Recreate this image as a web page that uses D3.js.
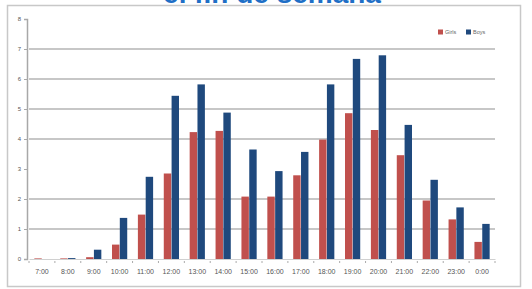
<!DOCTYPE html>
<html>
<head>
<meta charset="utf-8">
<script src="https://cdn.jsdelivr.net/npm/d3@7"></script>
<style>
  body { margin: 0; background: #fff; }
  svg { display: block; font-family: "Liberation Sans", Arial, sans-serif; }
</style>
</head>
<body>
<svg width="532" height="289"></svg>
<script>
// hours of the day
var hours = ["7:00","8:00","9:00","10:00","11:00","12:00","13:00","14:00","15:00",
             "16:00","17:00","18:00","19:00","20:00","21:00","22:00","23:00","0:00"];
var girls = [0.02,0.02,0.06,0.48,1.48,2.85,4.23,4.27,2.08,2.08,2.79,3.98,4.86,4.3,3.46,1.95,1.32,0.57];
var boys  = [0,0.03,0.31,1.37,2.74,5.44,5.82,4.88,3.65,2.93,3.57,5.82,6.67,6.79,4.47,2.64,1.72,1.17];
var yTicks = [0,1,2,3,4,5,6,7,8];
var gridVals = [1,2,4,5,6,7];
var seriesNames = ["Girls","Boys"];
var colors = ["#c0504d","#1f497d"];

var svg = d3.select("svg");

// outer frame
svg.append("rect")
    .attr("x", 7.5).attr("y", 5.5)
    .attr("width", 513).attr("height", 281)
    .attr("fill", "none")
    .attr("stroke", "#c8c8c8")
    .attr("stroke-width", 1.5);

// title, mostly cut off at the top
svg.append("text")
    .attr("x", 272).attr("y", 3)
    .attr("text-anchor", "middle")
    .attr("fill", "#1f6fc6")
    .style("font-size", "28px")
    .style("font-weight", "bold")
    .text("el fin de semana");

var x = d3.scaleBand().domain(hours).range([29, 495]);
var x1 = d3.scaleBand().domain(seriesNames).range([x.bandwidth()/2 - 8, x.bandwidth()/2 + 8]).padding(0.05);
var y = d3.scaleLinear().domain([0, 8]).range([259, 19]);

// gridlines
svg.append("g").selectAll("line")
    .data(gridVals)
    .enter().append("line")
    .attr("x1", 29).attr("x2", 495)
    .attr("y1", function(d) { return y(d); })
    .attr("y2", function(d) { return y(d); })
    .attr("stroke", "#b4b4b4")
    .attr("stroke-width", 1.3);

// y axis
var yAxis = svg.append("g")
    .attr("transform", "translate(27,0)")
    .call(d3.axisLeft(y).tickValues(yTicks).tickSize(3).tickFormat(d3.format("d")));
yAxis.select(".domain").attr("stroke", "#a8a8a8").attr("stroke-width", 1.5);
yAxis.selectAll(".tick line").attr("stroke", "#a8a8a8");
yAxis.selectAll("text").attr("fill", "#555").style("font-size", "6px").attr("x", -6);

// bars
var groups = svg.append("g").selectAll("g")
    .data(hours)
    .enter().append("g")
    .attr("transform", function(d) { return "translate(" + x(d) + ",0)"; });

groups.selectAll("rect")
    .data(function(d, i) { return [girls[i], boys[i]]; })
    .enter().append("rect")
    .attr("x", function(d, j) { return x1(seriesNames[j]); })
    .attr("width", x1.bandwidth())
    .attr("y", function(d) { return y(d); })
    .attr("height", function(d) { return y(0) - y(d); })
    .attr("fill", function(d, j) { return colors[j]; });

// x axis
var xAxis = svg.append("g")
    .attr("transform", "translate(0," + y(0) + ")")
    .call(d3.axisBottom(x).tickSize(0).tickPadding(10));
xAxis.select(".domain").attr("stroke", "#d0d0d0");
xAxis.selectAll("text").attr("fill", "#555").style("font-size", "7px");

// little ticks between categories
svg.append("g").selectAll("line")
    .data(hours.concat(["end"]))
    .enter().append("line")
    .attr("x1", function(d, i) { return 29 + i * x.step(); })
    .attr("x2", function(d, i) { return 29 + i * x.step(); })
    .attr("y1", y(0) + 2).attr("y2", y(0) + 4)
    .attr("stroke", "#aaa");

// legend
var legend = svg.append("g").selectAll("g")
    .data(seriesNames)
    .enter().append("g")
    .attr("transform", function(d, i) { return "translate(" + (438 + i * 28) + ",32)"; });
legend.append("rect")
    .attr("x", 0).attr("y", -2.5)
    .attr("width", 5).attr("height", 5)
    .attr("fill", function(d, i) { return colors[i]; });
legend.append("text")
    .attr("x", 7).attr("y", 2)
    .attr("fill", "#666")
    .style("font-size", "5.5px")
    .text(function(d) { return d; });
</script>
</body>
</html>
